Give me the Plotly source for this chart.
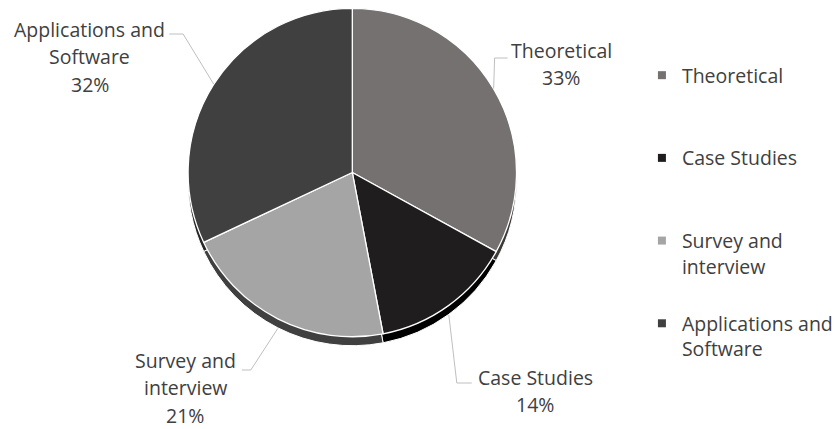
import math
import plotly.graph_objects as go

# ---------------- data ----------------
categories = ["Theoretical", "Case Studies", "Survey and interview", "Applications and Software"]
values = [33, 14, 21, 32]
wrapped = [["Theoretical"], ["Case Studies"], ["Survey and", "interview"], ["Applications and", "Software"]]
face_colors = ["#767171", "#201d1e", "#a5a5a5", "#404040"]
rim_colors = ["#3d3a3a", "#000000", "#404040", "#262626"]

# ---------------- layout helpers ----------------
W, H = 838, 429
FONT = "Open Sans"
TXT = "#404040"
FS = 19.5
LINE = 27.5


def fx(x):
    return x / W


def fy(y):
    return 1 - y / H


CX, CY, R, DEPTH = 354, 172.5, 165, 9

# label placement (pixel space): elbow of leader, end of leader, label centre x, first baseline
label_layout = [
    dict(elbow=(497, 58), end=(510, 58), cx=564, base=58),
    dict(elbow=(459, 383), end=(474, 383), cx=538, base=385),
    dict(elbow=(252, 370), end=(243, 370), cx=186, base=368),
    dict(elbow=(184, 34), end=(170, 34), cx=90, base=37),
]

fig = go.Figure()

# 3D rim (shadow pie shifted down)
fig.add_trace(go.Pie(
    labels=categories, values=values, sort=False, direction="clockwise", rotation=0,
    marker=dict(colors=rim_colors, line=dict(color="white", width=1)),
    textinfo="none", hoverinfo="skip", showlegend=False,
    domain=dict(x=[fx(CX - R), fx(CX + R)], y=[fy(CY + DEPTH + R), fy(CY + DEPTH - R)]),
))
# face
fig.add_trace(go.Pie(
    labels=categories, values=values, sort=False, direction="clockwise", rotation=0,
    marker=dict(colors=face_colors, line=dict(color="white", width=1.3)),
    textinfo="none", showlegend=False,
    domain=dict(x=[fx(CX - R), fx(CX + R)], y=[fy(CY + R), fy(CY - R)]),
))

# legend via marker entries
for i, (lines, col) in enumerate(zip(wrapped, face_colors)):
    name = "<br>".join(lines) if len(lines) > 1 else lines[0] + "<br>\u00a0"
    fig.add_trace(go.Scatter(
        x=[None], y=[None], mode="markers", name=name, legendgroup=str(i),
        marker=dict(symbol="square", size=8, color=col), showlegend=True,
    ))

total = sum(values)
shapes = []
annotations = []
cum = 0
for i, v in enumerate(values):
    mid = math.radians(90 - (cum + v / 2) / total * 360)
    cum += v
    ax = CX + R * math.cos(mid)
    ay = CY - R * math.sin(mid)
    if math.sin(mid) < 0:
        ay += DEPTH
    L = label_layout[i]
    ex, ey = L["elbow"]
    tx, ty = L["end"]
    shapes.append(dict(
        type="path", xref="paper", yref="paper",
        path=f"M{fx(ax)},{fy(ay)} L{fx(ex)},{fy(ey)} L{fx(tx)},{fy(ty)}",
        line=dict(color="#bfbfbf", width=1),
    ))
    lines = wrapped[i] + [f"{v / total * 100:.0f}%"]
    for k, t in enumerate(lines):
        base = L["base"] + k * LINE
        annotations.append(dict(
            x=fx(L["cx"]), y=fy(base - 0.388 * FS), xref="paper", yref="paper",
            xanchor="center", yanchor="middle", text=t, showarrow=False,
            font=dict(family=FONT, size=FS, color=TXT),
        ))

fig.update_layout(
    width=W, height=H,
    margin=dict(l=0, r=0, t=0, b=0),
    paper_bgcolor="white", plot_bgcolor="white",
    xaxis=dict(visible=False), yaxis=dict(visible=False),
    shapes=shapes, annotations=annotations,
    showlegend=True,
    legend=dict(
        x=fx(645), xanchor="left", y=fy(56), yanchor="top",
        font=dict(family=FONT, size=FS, color=TXT),
        tracegroupgap=29, valign="top", bgcolor="rgba(0,0,0,0)",
        itemclick=False, itemdoubleclick=False,
    ),
    font=dict(family=FONT, color=TXT),
)

fig.write_html(
    "out.html",
    config={"displayModeBar": False},
    post_script="document.body.style.margin='0px';document.body.style.overflow='hidden';",
)
